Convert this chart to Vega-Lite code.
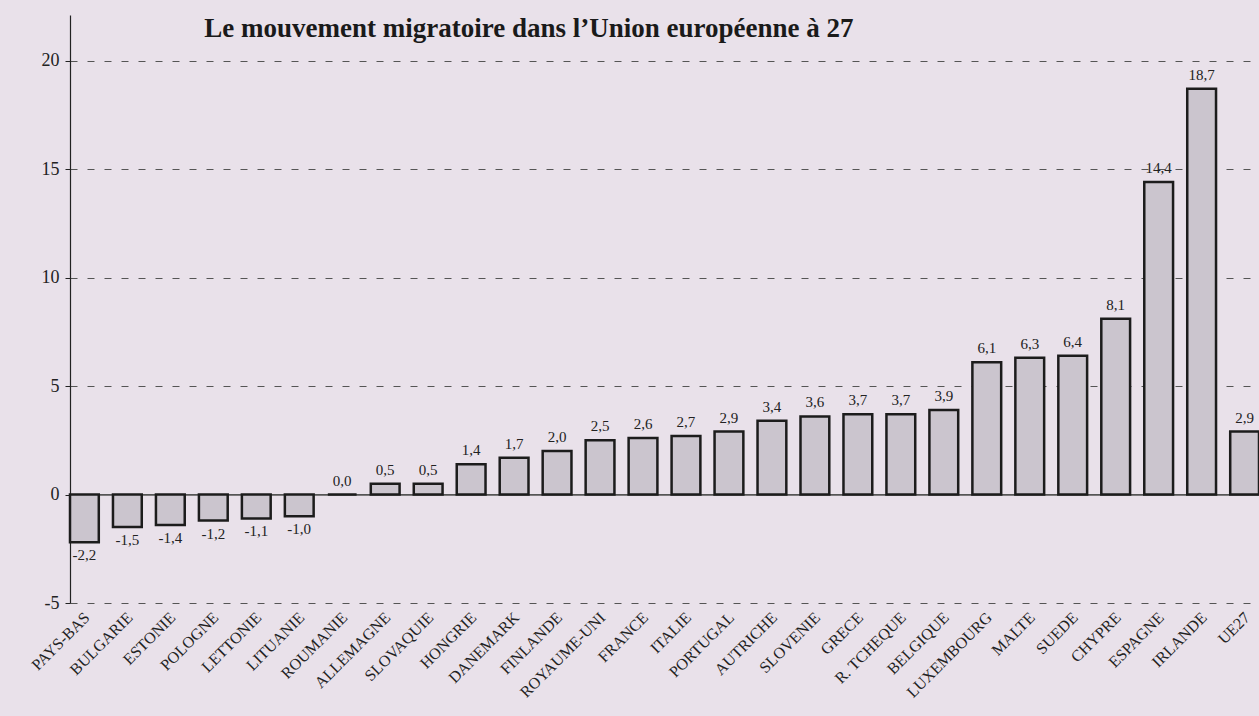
{
  "$schema": "https://vega.github.io/schema/vega-lite/v6.json",
  "autosize": "none",
  "width": 1189,
  "height": 588,
  "padding": {"left": 70, "top": 15, "right": 0, "bottom": 113},
  "background": "#e9e1ea",
  "title": {
    "text": "Le mouvement migratoire dans l’Union européenne à 27",
    "font": "Liberation Serif",
    "fontSize": 27,
    "fontWeight": "bold",
    "color": "#1a1a1a",
    "anchor": "start",
    "dx": 176,
    "dy": 28,
    "offset": 0
  },
  "config": {
    "view": {"stroke": null},
    "locale": {"number": {"decimal": ",", "thousands": " ", "grouping": [3], "currency": ["", " €"], "minus": "-"}}
  },
  "data": {
    "values": [
      {"pays": "PAYS-BAS", "v": -2.2},
      {"pays": "BULGARIE", "v": -1.5},
      {"pays": "ESTONIE", "v": -1.4},
      {"pays": "POLOGNE", "v": -1.2},
      {"pays": "LETTONIE", "v": -1.1},
      {"pays": "LITUANIE", "v": -1.0},
      {"pays": "ROUMANIE", "v": 0.0},
      {"pays": "ALLEMAGNE", "v": 0.5},
      {"pays": "SLOVAQUIE", "v": 0.5},
      {"pays": "HONGRIE", "v": 1.4},
      {"pays": "DANEMARK", "v": 1.7},
      {"pays": "FINLANDE", "v": 2.0},
      {"pays": "ROYAUME-UNI", "v": 2.5},
      {"pays": "FRANCE", "v": 2.6},
      {"pays": "ITALIE", "v": 2.7},
      {"pays": "PORTUGAL", "v": 2.9},
      {"pays": "AUTRICHE", "v": 3.4},
      {"pays": "SLOVENIE", "v": 3.6},
      {"pays": "GRECE", "v": 3.7},
      {"pays": "R. TCHEQUE", "v": 3.7},
      {"pays": "BELGIQUE", "v": 3.9},
      {"pays": "LUXEMBOURG", "v": 6.1},
      {"pays": "MALTE", "v": 6.3},
      {"pays": "SUEDE", "v": 6.4},
      {"pays": "CHYPRE", "v": 8.1},
      {"pays": "ESPAGNE", "v": 14.4},
      {"pays": "IRLANDE", "v": 18.7},
      {"pays": "UE27", "v": 2.9}
    ]
  },
  "encoding": {
    "x": {
      "field": "pays",
      "type": "nominal",
      "sort": null,
      "scale": {"paddingInner": 0.33, "paddingOuter": 0},
      "axis": {
        "title": null,
        "domain": false,
        "ticks": false,
        "labelAngle": -45,
        "labelFont": "Liberation Serif",
        "labelFontSize": 16,
        "labelColor": "#222",
        "labelPadding": 6,
        "labelOffset": -3
      }
    }
  },
  "layer": [
    {
      "mark": {"type": "rule", "color": "#555", "strokeWidth": 1},
      "encoding": {"x": null, "y": {"datum": 0, "type": "quantitative"}}
    },
    {
      "mark": {"type": "bar", "fill": "#cbc5ce", "stroke": "#1c1c1c", "strokeWidth": 2.5},
      "encoding": {
        "y": {
          "field": "v",
          "type": "quantitative",
          "scale": {"domain": [-5, 22.1], "nice": false, "zero": false},
          "axis": {
            "title": null,
            "values": [-5, 0, 5, 10, 15, 20],
            "format": "d",
            "labelFont": "Liberation Serif",
            "labelFontSize": 18,
            "labelColor": "#222",
            "labelPadding": 6,
            "domainColor": "#222",
            "domainWidth": 1.2,
            "tickColor": "#222",
            "tickSize": 5,
            "grid": true,
            "gridColor": "#555",
            "gridDash": {"condition": {"test": "datum.value === 0", "value": [1, 0]}, "value": [7, 10]},
            "gridWidth": 1
          }
        },
        "y2": {"datum": 0}
      }
    },
    {
      "transform": [{"filter": "datum.v >= 0"}],
      "mark": {"type": "text", "baseline": "bottom", "dy": -6, "font": "Liberation Serif", "fontSize": 15, "color": "#222"},
      "encoding": {
        "y": {"field": "v", "type": "quantitative"},
        "text": {"field": "v", "type": "quantitative", "format": ".1f"}
      }
    },
    {
      "transform": [{"filter": "datum.v < 0"}],
      "mark": {"type": "text", "baseline": "top", "dy": 6, "font": "Liberation Serif", "fontSize": 15, "color": "#222"},
      "encoding": {
        "y": {"field": "v", "type": "quantitative"},
        "text": {"field": "v", "type": "quantitative", "format": ".1f"}
      }
    }
  ]
}
